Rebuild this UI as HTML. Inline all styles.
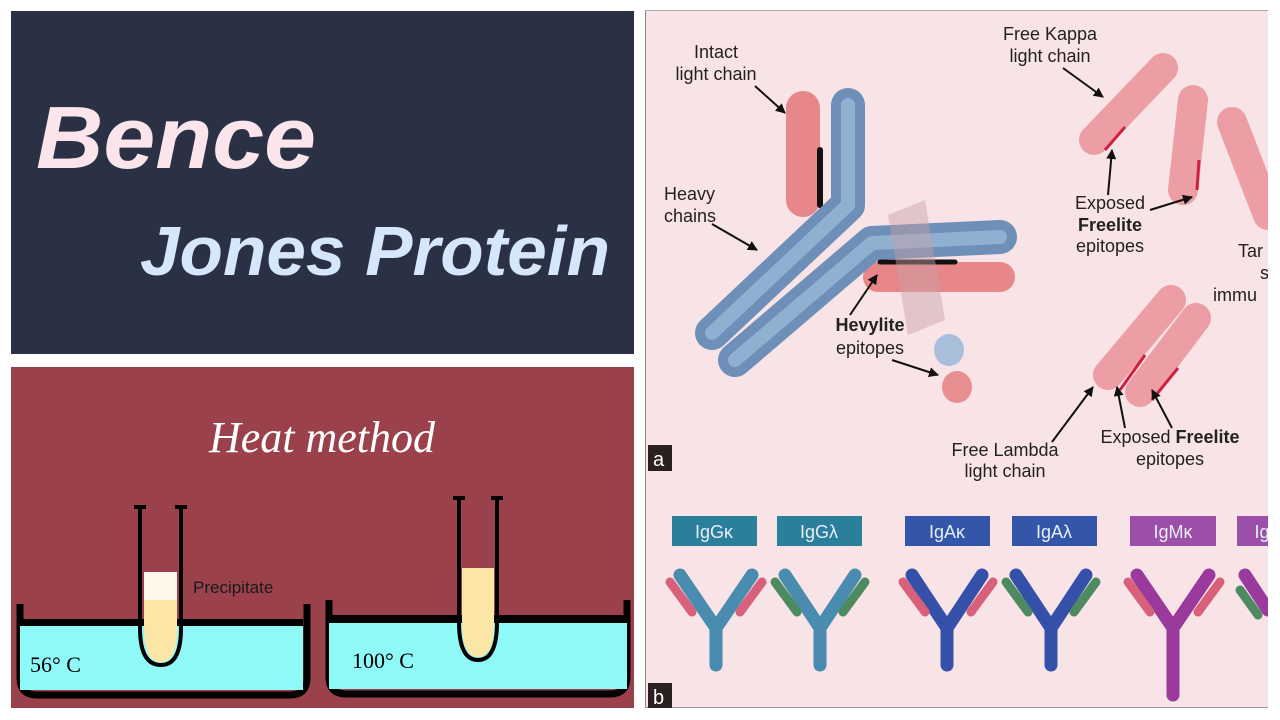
<!DOCTYPE html>
<html><head><meta charset="utf-8"><style>
html,body{margin:0;padding:0;background:#fff;width:1280px;height:720px;overflow:hidden}
</style></head><body>
<svg width="1280" height="720" viewBox="0 0 1280 720" xmlns="http://www.w3.org/2000/svg">
<defs>
<marker id="ar" viewBox="0 0 10 10" refX="9" refY="5" markerWidth="5" markerHeight="5" orient="auto"><path d="M0,0L10,5L0,10z" fill="#111"/></marker>
<clipPath id="rp"><rect x="645" y="10" width="623" height="698"/></clipPath>
</defs>
<rect width="1280" height="720" fill="#fff"/>
<!-- top left -->
<rect x="11" y="11" width="623" height="343" fill="#2b3144"/>
<text x="36" y="168" font-family="Liberation Sans, DejaVu Sans, sans-serif" font-style="italic" font-weight="bold" font-size="88" fill="#fbe4ea" textLength="280" lengthAdjust="spacingAndGlyphs">Bence</text>
<text x="140" y="275" font-family="Liberation Sans, DejaVu Sans, sans-serif" font-style="italic" font-weight="bold" font-size="70" fill="#d6e6fb" textLength="470" lengthAdjust="spacingAndGlyphs">Jones Protein</text>
<!-- bottom left -->
<rect x="11" y="367" width="623" height="341" fill="#9a414c"/>
<text x="322" y="452" text-anchor="middle" font-family="Liberation Serif, serif" font-style="italic" font-size="44" fill="#fff">Heat method</text>
<!-- bath 1 -->
<path d="M20,604 L20,678 Q20,695 37,695 L290,695 Q307,695 307,678 L307,604" fill="none" stroke="#000" stroke-width="7"/>
<rect x="20" y="625" width="283" height="65" fill="#8ff9f8"/>
<rect x="20" y="619" width="283" height="7" fill="#000"/>
<!-- tube 1 -->
<path d="M144,572 L144,628 Q144,662 161,662 Q177,662 177,628 L177,572 Z" fill="#fbe6a6"/>
<path d="M144,572 L144,600 L177,600 L177,572Z" fill="#fff8e8"/>
<path d="M140,506 L140,628 Q140,665 161,665 Q181,665 181,628 L181,506" fill="none" stroke="#000" stroke-width="4"/>
<rect x="134" y="505" width="12" height="4" fill="#000"/><rect x="175" y="505" width="12" height="4" fill="#000"/>
<text x="193" y="593" font-family="Liberation Sans, sans-serif" font-size="17" fill="#1a1a1a">Precipitate</text>
<text x="30" y="672" font-family="Liberation Serif, serif" font-size="22" fill="#000">56° C</text>
<!-- bath 2 -->
<path d="M329,600 L329,677 Q329,694 346,694 L610,694 Q627,694 627,677 L627,600" fill="none" stroke="#000" stroke-width="7"/>
<rect x="329" y="622" width="298" height="67" fill="#8ff9f8"/>
<rect x="329" y="615" width="298" height="8" fill="#000"/>
<path d="M462,568 L462,622 Q462,657 478,657 Q494,657 494,622 L494,568Z" fill="#fbe6a6"/>
<path d="M459,497 L459,622 Q459,660 478,660 Q497,660 497,622 L497,497" fill="none" stroke="#000" stroke-width="4"/>
<rect x="453" y="496" width="12" height="4" fill="#000"/><rect x="491" y="496" width="12" height="4" fill="#000"/>
<text x="352" y="668" font-family="Liberation Serif, serif" font-size="22" fill="#000">100° C</text>
<!-- right panel -->
<g clip-path="url(#rp)">
<rect x="645" y="10" width="623" height="698" fill="#f8e3e6"/>
<line x1="645.5" y1="10" x2="645.5" y2="708" stroke="#888" stroke-width="1"/>
<rect x="645" y="707" width="623" height="1" fill="#999"/>
<rect x="645" y="10" width="623" height="1" fill="#aaa"/>
<!-- main antibody -->
<g stroke-linecap="round" stroke-linejoin="round" fill="none">
<line x1="803" y1="108" x2="803" y2="200" stroke="#e8878a" stroke-width="34"/>
<line x1="820" y1="150" x2="820" y2="205" stroke="#111" stroke-width="6"/>
<path d="M848,105 L848,205 L712,333" stroke="#6d8fb8" stroke-width="34"/>
<path d="M848,105 L848,205 L712,333" stroke="#90b0d2" stroke-width="14"/>
<line x1="878" y1="277" x2="1000" y2="277" stroke="#e8878a" stroke-width="30"/>
<line x1="880" y1="262" x2="955" y2="262" stroke="#111" stroke-width="5"/>
<path d="M1000,237 L872,243 L735,360" stroke="#6d8fb8" stroke-width="34"/>
<path d="M1000,237 L872,243 L735,360" stroke="#90b0d2" stroke-width="14"/>
</g>
<polygon points="888,215 925,200 945,320 908,335" fill="#c8a0a4" opacity="0.45"/>
<ellipse cx="949" cy="350" rx="15" ry="16" fill="#a9bedb"/>
<ellipse cx="957" cy="387" rx="15" ry="16" fill="#e88f92"/>
<!-- kappa -->
<g stroke-linecap="round" fill="none" stroke="#ec9ea4" stroke-width="30">
<line x1="1094" y1="140" x2="1163" y2="68"/>
<line x1="1193" y1="100" x2="1183" y2="190"/>
<line x1="1232" y1="122" x2="1268" y2="215"/>
<line x1="1108" y1="375" x2="1171" y2="300"/>
<line x1="1140" y1="392" x2="1196" y2="318"/>
</g>
<g stroke="#d02040" stroke-width="3"><line x1="1105" y1="150" x2="1125" y2="127"/><line x1="1197" y1="190" x2="1199" y2="160"/><line x1="1120" y1="390" x2="1145" y2="355"/><line x1="1152" y1="400" x2="1178" y2="368"/></g>
<!-- labels -->
<g font-family="Liberation Sans, DejaVu Sans, sans-serif" font-size="18" fill="#222">
<text x="716" y="58" text-anchor="middle">Intact</text><text x="716" y="80" text-anchor="middle">light chain</text>
<text x="664" y="200">Heavy</text><text x="664" y="222">chains</text>
<text x="870" y="331" text-anchor="middle" font-weight="bold">Hevylite</text><text x="870" y="354" text-anchor="middle">epitopes</text>
<text x="1050" y="40" text-anchor="middle">Free Kappa</text><text x="1050" y="62" text-anchor="middle">light chain</text>
<text x="1110" y="209" text-anchor="middle">Exposed</text><text x="1110" y="231" text-anchor="middle" font-weight="bold">Freelite</text><text x="1110" y="252" text-anchor="middle">epitopes</text>
<text x="1238" y="257">Tar</text><text x="1260" y="279">s</text><text x="1213" y="301">immu</text>
<text x="1005" y="456" text-anchor="middle">Free Lambda</text><text x="1005" y="477" text-anchor="middle">light chain</text>
<text x="1170" y="443" text-anchor="middle">Exposed <tspan font-weight="bold">Freelite</tspan></text><text x="1170" y="465" text-anchor="middle">epitopes</text>
</g>
<g stroke="#111" stroke-width="2" marker-end="url(#ar)">
<line x1="755" y1="86" x2="785" y2="113"/><line x1="712" y1="224" x2="757" y2="250"/>
<line x1="850" y1="315" x2="877" y2="275"/><line x1="892" y1="360" x2="938" y2="375"/>
<line x1="1063" y1="68" x2="1103" y2="97"/><line x1="1108" y1="195" x2="1112" y2="150"/>
<line x1="1150" y1="210" x2="1192" y2="197"/><line x1="1052" y1="442" x2="1093" y2="387"/>
<line x1="1125" y1="428" x2="1117" y2="387"/><line x1="1172" y1="428" x2="1152" y2="390"/>
</g>
<!-- b: boxes -->
<g font-family="Liberation Sans, sans-serif" font-size="18" fill="#e8eef8" text-anchor="middle">
<rect x="672" y="516" width="85" height="30" fill="#2a7f9a"/><text x="714" y="538">IgGκ</text>
<rect x="777" y="516" width="85" height="30" fill="#2a7f9a"/><text x="819" y="538">IgGλ</text>
<rect x="905" y="516" width="85" height="30" fill="#3356a8"/><text x="947" y="538">IgAκ</text>
<rect x="1012" y="516" width="85" height="30" fill="#3356a8"/><text x="1054" y="538">IgAλ</text>
<rect x="1130" y="516" width="86" height="30" fill="#9b4fa8"/><text x="1173" y="538">IgMκ</text>
<rect x="1237" y="516" width="31" height="30" fill="#9b4fa8"/><text x="1262" y="538">Ig</text>
</g>
<g stroke-linecap="round" fill="none" stroke-width="13">
<g stroke="#4a8cb0"><path d="M680,575 L716,628 L716,665 M752,575 L716,628"/><path d="M785,575 L820,628 L820,665 M855,575 L820,628"/></g>
<g stroke="#3450a8"><path d="M912,575 L947,628 L947,665 M982,575 L947,628"/><path d="M1016,575 L1051,628 L1051,665 M1086,575 L1051,628"/></g>
<g stroke="#9a3a9c"><path d="M1137,575 L1173,628 L1173,695 M1209,575 L1173,628"/><path d="M1245,575 L1268,610"/></g>
<g stroke="#d8607a" stroke-width="9"><line x1="670" y1="582" x2="692" y2="612"/><line x1="762" y1="582" x2="740" y2="612"/><line x1="903" y1="582" x2="925" y2="612"/><line x1="993" y1="582" x2="971" y2="612"/><line x1="1128" y1="582" x2="1150" y2="612"/><line x1="1220" y1="582" x2="1198" y2="612"/></g>
<g stroke="#4e8a60" stroke-width="9"><line x1="775" y1="582" x2="797" y2="612"/><line x1="865" y1="582" x2="843" y2="612"/><line x1="1006" y1="582" x2="1028" y2="612"/><line x1="1096" y1="582" x2="1074" y2="612"/><line x1="1240" y1="590" x2="1258" y2="615"/></g>
</g>
<rect x="648" y="445" width="24" height="26" fill="#2a2020"/><text x="653" y="466" font-family="Liberation Sans, sans-serif" font-size="20" fill="#fff">a</text>
<rect x="648" y="683" width="24" height="25" fill="#2a2020"/><text x="653" y="704" font-family="Liberation Sans, sans-serif" font-size="20" fill="#fff">b</text>
</g>
</svg>
</body></html>
